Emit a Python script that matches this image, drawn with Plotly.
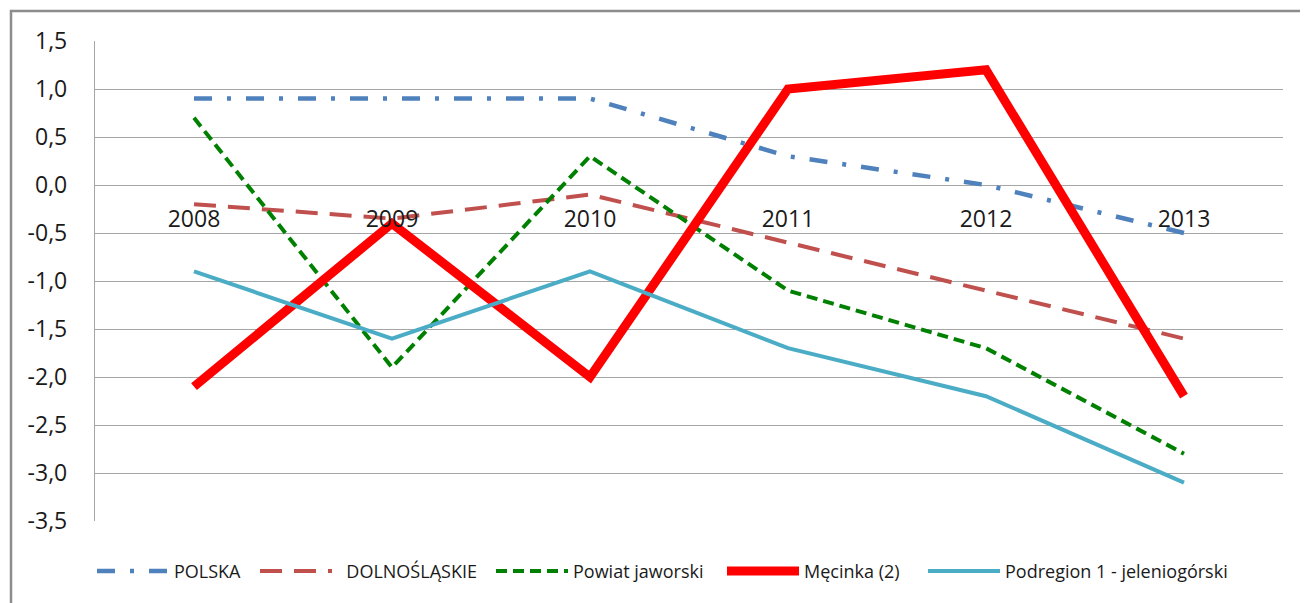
import plotly.graph_objects as go

years = ["2008", "2009", "2010", "2011", "2012", "2013"]
polska = [0.9, 0.9, 0.9, 0.3, 0.0, -0.5]
dolnoslaskie = [-0.2, -0.35, -0.1, -0.6, -1.1, -1.6]
powiat_jaworski = [0.7, -1.9, 0.3, -1.1, -1.7, -2.8]
mecinka = [-2.1, -0.4, -2.0, 1.0, 1.2, -2.2]
podregion = [-0.9, -1.6, -0.9, -1.7, -2.2, -3.1]

y_ticks = [1.5, 1.0, 0.5, 0.0, -0.5, -1.0, -1.5, -2.0, -2.5, -3.0, -3.5]
y_ticktext = [f"{v:.1f}".replace(".", ",") for v in y_ticks]

FONT = "Open Sans"
NB = "\u00a0"

# page is offset by the 8px body margin; plot area spans page x 95..1283, y 41..521
def lx(page_x):
    return (page_x - 95) / 1188.0

series = [
    ("POLSKA", polska, dict(color="#4F81BD", width=4.5, dash="18px,15px,4px,15px"), 97),
    (NB * 2 + "DOLNOŚLĄSKIE", dolnoslaskie, dict(color="#C0504D", width=4, dash="22px,12px"), 260),
    ("Powiat jaworski", powiat_jaworski, dict(color="#008000", width=4, dash="11px,6px"), 496),
    ("Męcinka (2)", mecinka, dict(color="#FF0000", width=9), 727),
    ("Podregion 1 - jeleniogórski", podregion, dict(color="#4BACC6", width=4), 928),
]

fig = go.Figure()
layout_legends = {}
for i, (name, vals, line, px) in enumerate(series):
    key = "legend" if i == 0 else f"legend{i + 1}"
    fig.add_trace(go.Scatter(x=years, y=vals, name=name, mode="lines", line=line,
                             legend=key))
    layout_legends[key] = dict(orientation="h", x=lx(px - 5), xanchor="left",
                               y=-0.105, yanchor="middle",
                               font=dict(size=18, family=FONT, color="#1a1a1a"),
                               itemwidth=72, bgcolor="rgba(0,0,0,0)")

fig.update_layout(
    width=1300, height=595,
    margin=dict(l=87, r=25, t=33, b=82),
    paper_bgcolor="white", plot_bgcolor="white",
    font=dict(family=FONT, color="#1a1a1a"),
    showlegend=True,
    xaxis=dict(type="category", categoryorder="array", categoryarray=years,
               range=[-0.5, 5.5], anchor="free", position=0.7,
               showgrid=False, showline=False, zeroline=False, ticks="",
               tickfont=dict(size=23, family=FONT), ticklabelstandoff=18),
    yaxis=dict(range=[-3.5, 1.5], tickvals=y_ticks, ticktext=y_ticktext,
               showgrid=True, gridcolor="#A6A6A6", gridwidth=1.3,
               zeroline=False, showline=True, linecolor="#A6A6A6", linewidth=1.3,
               ticks="", tickfont=dict(size=23, family=FONT), ticklabelstandoff=22),
    shapes=[dict(type="rect", xref="paper", yref="paper",
                 x0=(3 - 87) / 1188, x1=1.1, y0=-0.3, y1=1 + 30 / 480,
                 line=dict(color="#8C8C8C", width=2.5), fillcolor="rgba(0,0,0,0)",
                 layer="below")],
    **layout_legends,
)

fig.write_html("out.html")
